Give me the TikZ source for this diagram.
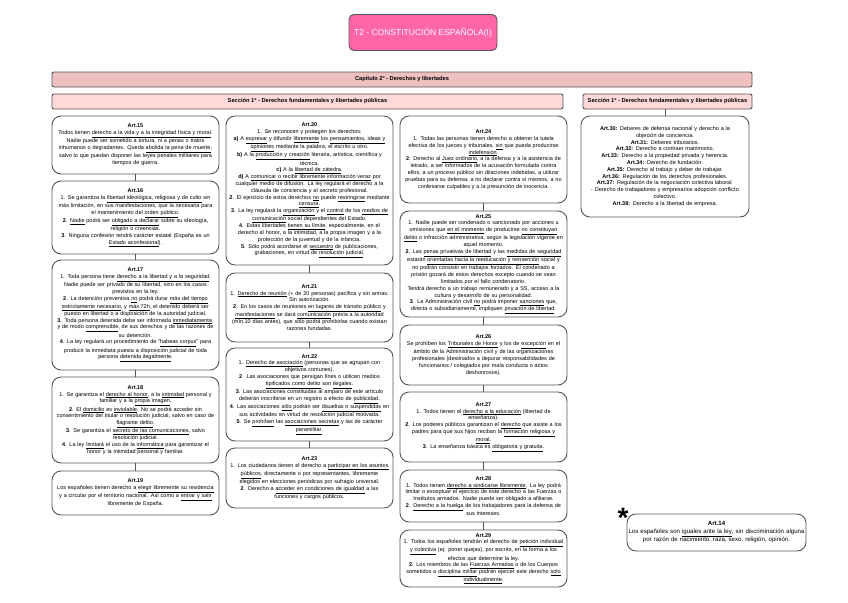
\documentclass[tikz,border=0pt]{standalone}
\usepackage{fontspec}
\setmainfont{Liberation Sans}
\definecolor{bord}{HTML}{555555}
\definecolor{titlepink}{HTML}{FF66AA}
\definecolor{cappink}{HTML}{EFC0C0}
\definecolor{secpink}{HTML}{FFD9D9}
\newcommand\myu[1]{\underline{#1}}
\newcommand\artf{\fontsize{5.5}{6.8}\selectfont}
\newcommand\bigartf{\fontsize{6.1}{7.2}\selectfont}
\newcommand\barf{\fontsize{5.7}{6.5}\selectfont\bfseries}
\begin{document}
\begin{tikzpicture}[x=1pt,y=-1pt,
  every node/.style={inner sep=0pt, outer sep=0pt},
  artbox/.style n args={3}{draw=bord, line width=0.9pt, rounded corners=9pt, fill=white, align=center, anchor=north west, minimum width=#1pt, minimum height=#2pt, text width=#3pt, font=\artf},
  barbox/.style n args={3}{draw=bord, line width=0.9pt, rounded corners=2pt, fill=#3, anchor=north west, minimum width=#1pt, minimum height=#2pt, font=\barf},
  titlebox/.style={draw=bord, line width=0.9pt, rounded corners=5pt, fill=titlepink, text=white, minimum width=148pt, minimum height=36pt, font=\fontsize{8.5}{10}\selectfont},
  link/.style={draw=bord, line width=0.9pt}]
\useasboundingbox (0,0) rectangle (848,602);
\fill[white] (0,0) rectangle (848,602);

\node[titlebox] (title) at (423,32.5) {T2 - CONSTITUCIÓN ESPAÑOLA(I)};
\node[barbox={700}{15}{cappink}] (cap) at (52,72) {Capítulo 2º - Derechos y libertades};
\node[barbox={511}{15}{secpink}] (secA) at (52,94) {Sección 1ª - Derechos fundamentales y libertades públicas};
\node[barbox={169}{15}{secpink}] (secB) at (583,94) {Sección 1ª - Derechos fundamentales y libertades públicas};

% Column 1
\node[artbox={167}{58}{165}] (a15) at (52,116) {\textbf{Art.15}\\
Todos tienen \myu{derecho a la vida y a la integridad física y moral}.\\
Nadie puede ser sometido a tortura, ni a penas o tratos\\
inhumanos o degradantes. Queda \myu{abolida la pena de muerte},\\
salvo lo que puedan disponer las leyes penales militares para\\
tiempos de guerra.};
\node[artbox={167}{73}{165}] (a16) at (52,181) {\textbf{Art.16}\\
1. Se garantiza la \myu{libertad ideológica, religiosa y de culto} sin\\
más limitación, en sus manifestaciones, que la necesaria para\\
el mantenimiento del \myu{orden público}.\\
\textbf{2}. \myu{Nadie} podrá ser \myu{obligado a declarar} sobre su ideología,\\
religión o creencias.\\
\textbf{3}. Ninguna confesión tendrá carácter estatal (España es un\\
\myu{Estado aconfesional}).};
\node[artbox={167}{110}{165}] (a17) at (52,260) {\textbf{Art.17}\\
1. Toda persona tiene \myu{derecho a la libertad y a la seguridad}.\\
Nadie puede ser privado de su libertad, sino en los casos\\
previstos en la ley.\\
\textbf{2}. La detención preventiva \myu{no} podrá durar \myu{más del tiempo}\\
\myu{estrictamente necesario}, y \myu{máx.72h}, el detenido deberá ser\\
puesto en libertad o a disposición de la autoridad judicial.\\
\textbf{3}. Toda persona detenida debe ser informada \myu{inmediatamente},\\
y de modo \myu{comprensible}, de sus derechos y de las razones de\\
su detención.\\
\textbf{4}. La ley regulará un procedimiento de "\myu{habeas corpus}" para\\
producir la inmediata puesta a disposición judicial de toda\\
persona \myu{detenida ilegalmente}.};
\node[artbox={167}{86}{165}] (a18) at (52,377) {\textbf{Art.18}\\
1. Se garantiza el \myu{derecho al honor}, a la \myu{intimidad} personal y\\
familiar y a la \myu{propia imagen}.\\
\textbf{2}. El \myu{domicilio} es \myu{inviolable}. No se podrá acceder sin\\
consentimiento del titular o resolución judicial, salvo en caso de\\
\myu{flagrante delito}.\\
\textbf{3}. Se garantiza el \myu{secreto de las comunicaciones}, salvo\\
resolución judicial.\\
\textbf{4}. La ley \myu{limitará} el uso de la \myu{informática} para garantizar el\\
honor y la intimidad personal y familiar.};
\node[artbox={167}{44}{165}] (a19) at (52,471) {\textbf{Art.19}\\
Los españoles tienen derecho a \myu{elegir libremente su residencia}\\
y a circular por el territorio nacional. Así como a \myu{entrar y salir}\\
libremente de España.};

% Column 2
\node[artbox={167}{149}{165}] (a20) at (226,116) {\textbf{Art.20}\\
1. Se reconocen y protegen los derechos:\\
\textbf{a)} A \myu{expresar} y difundir \myu{libremente} los \myu{pensamientos, ideas y}\\
\myu{opiniones} mediante la palabra, el escrito u otro.\\
\textbf{b)} A la \myu{producción y creación} literaria, artística, científica y\\
técnica.\\
\textbf{c)} A la \myu{libertad de cátedra}.\\
\textbf{d)} A \myu{comunicar o recibir libremente información veraz} por\\
cualquier medio de difusión. La ley regulará el derecho a la\\
cláusula de conciencia y al secreto profesional.\\
\textbf{2}. El ejercicio de estos derechos \myu{no} puede \myu{restringirse} mediante\\
\myu{censura}.\\
\textbf{3}. La ley regulará la \myu{organización} y el \myu{control} de los \myu{medios de}\\
\myu{comunicación} social dependientes del Estado.\\
\textbf{4}. Estas libertades \myu{tienen su límite}, especialmente, en el\\
derecho al honor, a la intimidad, a la propia imagen y a la\\
protección de la juventud y de la infancia.\\
\textbf{5}. Sólo podrá acordarse el \myu{secuestro} de publicaciones,\\
grabaciones, en virtud de \myu{resolución judicial}.};
\node[artbox={167}{69}{165}] (a21) at (226,273) {\textbf{Art.21}\\
1. \myu{Derecho de reunión} (+ de 20 personas) pacífica y sin armas.\\
Sin autorización.\\
\textbf{2}. En los casos de reuniones \myu{en lugares de tránsito público} y\\
\myu{manifestaciones} se dará \myu{comunicación} previa a la autoridad\\
(mín.10 días antes), que sólo podrá prohibirlas cuando existan\\
razones fundadas.};
\node[artbox={167}{93}{165}] (a22) at (226,348) {\textbf{Art.22}\\
1. \myu{Derecho de asociación} (personas que se agrupan con\\
objetivos comunes).\\
\textbf{2}. Las asociaciones que persigan fines o utilicen medios\\
\myu{tipificados como delito} son \myu{ilegales}.\\
\textbf{3}. Las asociaciones constituidas al amparo de este artículo\\
deberán inscribirse en un registro a efecto de \myu{publicidad}.\\
\textbf{4}. Las asociaciones \myu{sólo} podrán ser \myu{disueltas o suspendidas} en\\
sus actividades en virtud de resolución judicial motivada.\\
\textbf{5}. Se \myu{prohíben} las \myu{asociaciones secretas} y las de carácter\\
\myu{paramilitar}.};
\node[artbox={167}{60}{165}] (a23) at (226,448) {\textbf{Art.23}\\
1. Los ciudadanos tienen el derecho a \myu{participar en los asuntos}\\
\myu{públicos}, directamente o por representantes, libremente\\
elegidos en elecciones periódicas por sufragio universal.\\
\textbf{2}. Derecho a \myu{acceder en condiciones de igualdad} a las\\
funciones y cargos públicos.};

% Column 3
\node[artbox={167}{87}{165}] (a24) at (400,116) {\textbf{Art.24}\\
1. Todas las personas tienen derecho a obtener la tutela\\
efectiva de los jueces y tribunales, \myu{sin} que pueda producirse\\
\myu{indefensión}.\\
\textbf{2}. Derecho al \myu{Juez ordinario}, a la defensa y a la asistencia de\\
letrado, a ser informados de la acusación formulada contra\\
ellos, a un proceso público sin dilaciones indebidas, a utilizar\\
pruebas para su defensa, a no declarar contra sí mismos, a no\\
confesarse culpables y a la presunción de inocencia.};
\node[artbox={167}{106}{165}] (a25) at (400,211) {\textbf{Art.25}\\
1. Nadie puede ser condenado o sancionado por acciones u\\
omisiones que \myu{en el momento} de producirse \myu{no constituyan}\\
\myu{delito} o infracción administrativa, según la legislación vigente en\\
aquel momento.\\
\textbf{2}. Las \myu{penas privativas de libertad} y las \myu{medidas de seguridad}\\
estarán \myu{orientadas hacia la reeducación y reinserción} social y\\
no podrán consistir en trabajos forzados. El condenado a\\
prisión gozará de estos derechos excepto cuando se vean\\
limitados por el fallo condenatorio.\\
Tendrá derecho a un trabajo remunerado y a SS, acceso a la\\
cultura y desarrollo de su personalidad.\\
\textbf{3}. La Administración civil \myu{no} podrá imponer \myu{sanciones} que,\\
directa o subsidiariamente, impliquen \myu{privación de libertad}.};
\node[artbox={167}{60}{165}] (a26) at (400,325) {\textbf{Art.26}\\
Se prohíben los \myu{Tribunales de Honor} y los de \myu{excepción} en el\\
ámbito de la Administración civil y de las organizaciones\\
profesionales (destinados a depurar responsabilidades de\\
funcionarios / colegiados por mala conducta o actos\\
deshonrosos).};
\node[artbox={167}{70}{165}] (a27) at (400,392) {\textbf{Art.27}\\
1. Todos tienen el \myu{derecho a la educación} (libertad de\\
enseñanza).\\
\textbf{2}. Los poderes públicos garantizan el \myu{derecho} que asiste a los\\
padres para que sus hijos reciban la \myu{formación religiosa y}\\
\myu{moral}.\\
\textbf{3}. La enseñanza básica es \myu{obligatoria y gratuita}.};
\node[artbox={167}{52}{165}] (a28) at (400,470) {\textbf{Art.28}\\
1. Todos tienen \myu{derecho a sindicarse libremente}. La ley podrá\\
limitar o exceptuar el ejercicio de este derecho a las Fuerzas o\\
Institutos armados. Nadie puede ser obligado a afiliarse.\\
\textbf{2}. \myu{Derecho a la huelga} de los trabajadores para la defensa de\\
sus intereses.};
\node[artbox={167}{57}{165}] (a29) at (400,530) {\textbf{Art.29}\\
1. Todos los españoles tendrán el derecho de \myu{petición individual}\\
\myu{y colectiva} (ej: poner quejas), por escrito, en la forma a los\\
efectos que determine la ley.\\
\textbf{2}. Los miembros de las \myu{Fuerzas Armadas} o de los Cuerpos\\
sometidos a \myu{disciplina militar} podrán ejercer este derecho \myu{solo}\\
\myu{individualmente}.};

% Right column
\node[artbox={168}{101}{165}] (a30) at (581,116) {\textbf{Art.30:} Deberes de defensa nacional y derecho a la\\
objeción de conciencia.\\
\textbf{Art.31:} Deberes tributarios.\\
\textbf{Art.32:} Derecho a contraer matrimonio.\\
\textbf{Art.33:} Derecho a la propiedad privada y herencia.\\
\textbf{Art.34:} Derecho de fundación.\\
\textbf{Art.35:} Derecho al trabajo y deber de trabajar.\\
\textbf{Art.36:} Regulación de los derechos profesionales.\\
\textbf{Art.37:} Regulación de la negociación colectiva laboral.\\
- Derecho de trabajadores y empresarios adopción conflicto\\
colectivo.\\
\textbf{Art.38:} Derecho a la libertad de empresa.};
\node[artbox={179}{37}{177}, font=\bigartf] (a14) at (627,514) {\textbf{Art.14}\\
Los españoles son \myu{iguales ante la ley}, sin discriminación alguna\\
por razón de nacimiento, raza, sexo, religión, opinión.};
\node[font=\fontsize{28}{28}\selectfont\bfseries] (ast) at (623,518) {*};

% Connectors
\draw[link] (a15.south) -- (a16.north);
\draw[link] (a16.south) -- (a17.north);
\draw[link] (a17.south) -- (a18.north);
\draw[link] (a18.south) -- (a19.north);
\draw[link] (a20.south) -- (a21.north);
\draw[link] (a21.south) -- (a22.north);
\draw[link] (a22.south) -- (a23.north);
\draw[link] (a24.south) -- (a25.north);
\draw[link] (a25.south) -- (a26.north);
\draw[link] (a26.south) -- (a27.north);
\draw[link] (a27.south) -- (a28.north);
\draw[link] (a28.south) -- (a29.north);
\draw[link] (a30.north |- secB.south) -- (a30.north);
\end{tikzpicture}
\end{document}
